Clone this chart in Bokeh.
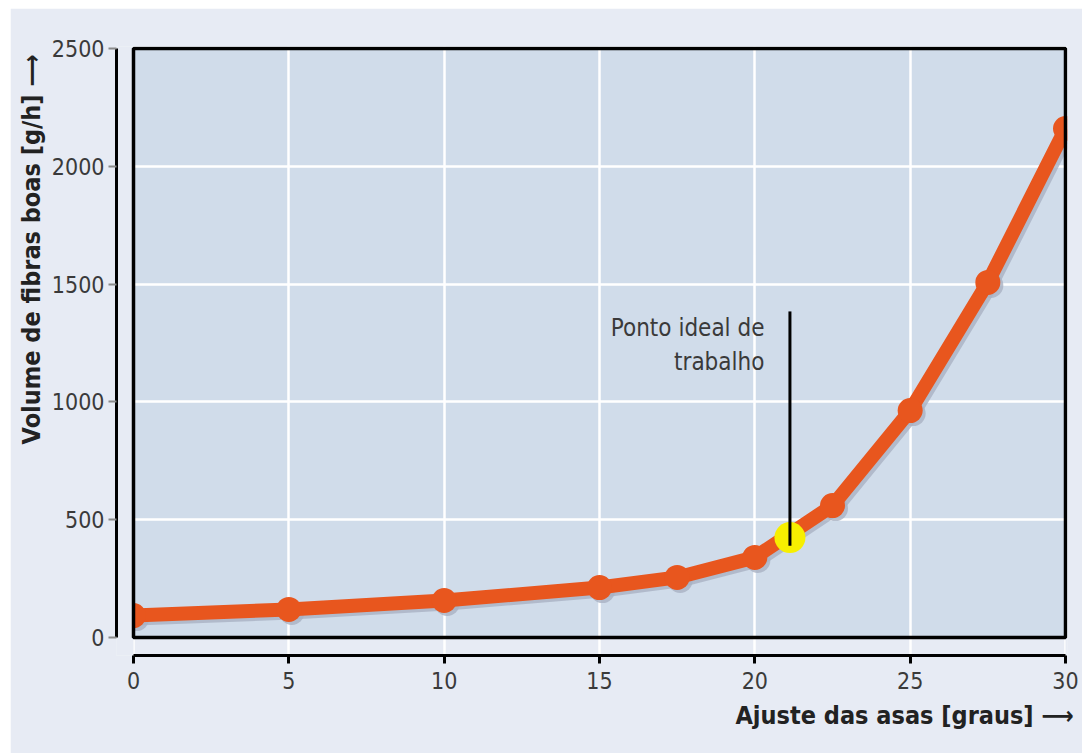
from bokeh.plotting import figure
from bokeh.models import Range1d, Title, Label, FixedTicker, LinearAxis
from bokeh.embed import file_html
from bokeh.resources import INLINE

# ---- data ----
angles = [0, 5, 10, 15, 17.5, 20, 22.5, 25, 27.5, 30]
volume = [93, 119, 157, 212, 255, 340, 560, 963, 1507, 2160]
ideal_angle = [21.13]
ideal_volume = [424]
marker_top = [1384]
x_ticks = [0, 5, 10, 15, 20, 25, 30]
y_ticks = [0, 500, 1000, 1500, 2000, 2500]
x_label = "Ajuste das asas [graus]  \u27f6"
y_label = "Volume de fibras boas [g/h]  \u27f6"
note_text = "Ponto ideal de\ntrabalho"

BG = "#e7ebf4"
BOX = "#d0dcea"
ORANGE = "#e8561e"
SHADOW = "#a9b1c3"
FONT = "DejaVu Sans Condensed, Liberation Sans Narrow, Liberation Sans, sans-serif"

# geometry in pixels -> ranges
px_x = 932.0 / 30.0       # px per degree
px_y = 589.0 / 2500.0     # px per g/h
x0 = -17.0 / px_x
x1 = 30 + 2.0 / px_x
y0 = -18.0 / px_y
y1 = 2500 + 2.0 / px_y

p = figure(width=1072, height=745, output_backend="svg", toolbar_location=None,
           x_range=Range1d(x0, x1), y_range=Range1d(y0, y1),
           x_axis_location=None, y_axis_location=None,
           min_border_left=106, min_border_right=15, min_border_top=38, min_border_bottom=98,
           margin=(8, 0, 0, 10))
p.background_fill_color = BG
p.border_fill_color = BG
p.outline_line_color = None

# shadow ranges (offset 3px right / down)
p.extra_x_ranges = {"sx": Range1d(x0 - 3.0 / px_x, x1 - 3.0 / px_x)}
p.extra_y_ranges = {"sy": Range1d(y0 + 3.0 / px_y, y1 + 3.0 / px_y)}

# axes
xa = LinearAxis(ticker=FixedTicker(ticks=x_ticks), bounds=(0, 30))
xa.axis_line_color = "black"
xa.axis_line_width = 3
xa.major_tick_line_color = "black"
xa.major_tick_line_width = 3
xa.major_tick_out = 8
xa.major_tick_in = 0
xa.minor_tick_line_color = None
xa.major_label_text_font = FONT
xa.major_label_text_font_size = "23px"
xa.major_label_text_color = "#3a3a3a"
xa.major_label_standoff = 8
p.add_layout(xa, "below")

ya = LinearAxis(ticker=FixedTicker(ticks=y_ticks), bounds=(0, 2500))
ya.axis_line_color = "black"
ya.axis_line_width = 3
ya.major_tick_line_color = "#8a8a8a"
ya.major_tick_line_width = 2
ya.major_tick_out = 8
ya.major_tick_in = 0
ya.minor_tick_line_color = None
ya.major_label_text_font = FONT
ya.major_label_text_font_size = "23px"
ya.major_label_text_color = "#3a3a3a"
ya.major_label_standoff = 4
ya.major_label_orientation = "horizontal"
p.add_layout(ya, "left")

# grids limited to the box
p.xgrid.ticker = FixedTicker(ticks=x_ticks)
p.ygrid.ticker = FixedTicker(ticks=y_ticks)
for g in (p.xgrid, p.ygrid):
    g.grid_line_color = "white"
    g.grid_line_width = 2.5
p.xgrid.bounds = (0, 2500)
p.ygrid.bounds = (0, 30)

# box fill (below grid)
p.quad(left=[0], right=[30], bottom=[0], top=[2500], fill_color=BOX, line_color=None, level="image")

# shadow
p.line(angles, volume, line_color=SHADOW, line_width=14, line_alpha=0.8,
       x_range_name="sx", y_range_name="sy")
p.scatter(angles, volume, size=25, fill_color=SHADOW, line_color=None, fill_alpha=0.8,
          x_range_name="sx", y_range_name="sy")
# main series
p.line(angles, volume, line_color=ORANGE, line_width=14, line_join="round")
p.scatter(angles, volume, size=25, fill_color=ORANGE, line_color=None)

# yellow ideal point
p.scatter(ideal_angle, ideal_volume, size=31, fill_color="#f7ef00", line_color=None)

# masks so that marks are clipped by the box
p.quad(left=[x0 - 1], right=[0], bottom=[y0], top=[y1], fill_color=BG, line_color=None)
p.quad(left=[30], right=[x1 + 1], bottom=[y0], top=[y1], fill_color=BG, line_color=None)

# box border
p.quad(left=[0], right=[30], bottom=[0], top=[2500], fill_color=None,
       line_color="black", line_width=3.5)

# annotation
p.segment(x0=ideal_angle, y0=[ideal_volume[0] - 35], x1=ideal_angle, y1=marker_top,
          line_color="black", line_width=3)
p.add_layout(Label(x=20.31, y=1110, text=note_text, text_align="right",
                   text_baseline="bottom", text_font=FONT, text_font_size="24px",
                   text_color="#3a3a3a", text_line_height=1.2))

# axis titles
tx = Title(text=x_label, align="right", text_font=FONT, text_font_size="25px",
           text_font_style="bold", text_color="#222222", offset=-14, standoff=14)
p.add_layout(tx, "below")
ty = Title(text=y_label, align="right", text_font=FONT, text_font_size="25px",
           text_font_style="bold", text_color="#222222", offset=0, standoff=6)
p.add_layout(ty, "left")

open("out.html", "w").write(file_html(p, INLINE))
